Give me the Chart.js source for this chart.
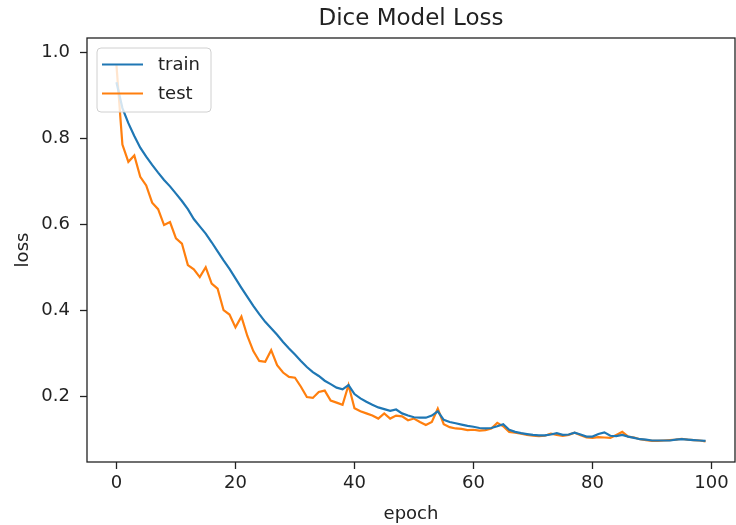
<!DOCTYPE html>
<html>
<head>
<meta charset="utf-8">
<title>Dice Model Loss</title>
<script src="https://cdn.jsdelivr.net/npm/chart.js@4.4.1/dist/chart.umd.min.js"></script>
<style>
  html, body { margin: 0; padding: 0; background: #fff; }
  #wrap { width: 736px; height: 525px; }
</style>
</head>
<body>
<div id="wrap"><canvas id="lossChart" width="736" height="525"></canvas></div>
<script>
/* Dice model loss per epoch — train vs test */

const EPOCHS = Array.from({ length: 100 }, (_, i) => i);

const TRAIN_LOSS = [
  0.930, 0.870, 0.835, 0.805, 0.778, 0.757, 0.738, 0.720, 0.703, 0.688,
  0.671, 0.654, 0.635, 0.612, 0.595, 0.578, 0.558, 0.537, 0.516, 0.496,
  0.474, 0.452, 0.431, 0.410, 0.391, 0.373, 0.358, 0.343, 0.326, 0.311,
  0.297, 0.282, 0.268, 0.256, 0.247, 0.236, 0.228, 0.220, 0.216, 0.226,
  0.205, 0.195, 0.187, 0.180, 0.174, 0.170, 0.166, 0.169, 0.160, 0.155,
  0.151, 0.150, 0.150, 0.155, 0.165, 0.145, 0.140, 0.137, 0.134, 0.131,
  0.129, 0.126, 0.125, 0.126, 0.130, 0.135, 0.122, 0.117, 0.114, 0.112,
  0.110, 0.109, 0.109, 0.111, 0.114, 0.110, 0.111, 0.115, 0.111, 0.106,
  0.106, 0.112, 0.116, 0.108, 0.107, 0.110, 0.106, 0.103, 0.100, 0.099,
  0.097, 0.097, 0.097, 0.097, 0.099, 0.100, 0.099, 0.098, 0.097, 0.096,
];

const TEST_LOSS = [
  0.970, 0.785, 0.745, 0.760, 0.710, 0.690, 0.650, 0.635, 0.598, 0.605,
  0.567, 0.555, 0.505, 0.495, 0.477, 0.500, 0.462, 0.450, 0.400, 0.390,
  0.360, 0.385, 0.340, 0.305, 0.282, 0.280, 0.307, 0.272, 0.255, 0.245,
  0.243, 0.222, 0.198, 0.196, 0.210, 0.213, 0.190, 0.185, 0.180, 0.226,
  0.172, 0.165, 0.160, 0.155, 0.148, 0.160, 0.148, 0.155, 0.153, 0.144,
  0.148, 0.140, 0.133, 0.140, 0.171, 0.135, 0.128, 0.125, 0.124, 0.121,
  0.122, 0.120, 0.121, 0.125, 0.138, 0.130, 0.117, 0.115, 0.113, 0.110,
  0.108, 0.107, 0.108, 0.113, 0.110, 0.108, 0.110, 0.115, 0.109, 0.104,
  0.103, 0.105, 0.104, 0.103, 0.110, 0.117, 0.106, 0.104, 0.100, 0.098,
  0.096, 0.096, 0.097, 0.098, 0.099, 0.101, 0.099, 0.098, 0.097, 0.095,
];

const X_TICKS = [0, 20, 40, 60, 80, 100];
const Y_TICKS = [0.2, 0.4, 0.6, 0.8, 1.0];

const FONT = 'DejaVu Sans';
const INK = '#222';

/* ===== plugins ===== */
// matplotlib-style box around the plot area
const framePlugin = {
  id: 'frame',
  afterDraw(chart) {
    const { ctx, chartArea: a } = chart;
    ctx.save();
    ctx.strokeStyle = INK;
    ctx.lineWidth = 1.3;
    ctx.strokeRect(a.left, a.top, a.right - a.left, a.bottom - a.top);
    ctx.restore();
  },
};

// legend in the upper left corner of the plot area
const cornerLegend = {
  id: 'cornerLegend',
  afterDatasetsDraw(chart) {
    const { ctx, chartArea: a } = chart;
    const x = a.left + 10, y = a.top + 10, w = 114, h = 64, r = 4;
    ctx.save();
    ctx.beginPath();
    ctx.roundRect(x, y, w, h, r);
    ctx.fillStyle = 'rgba(255,255,255,0.8)';
    ctx.fill();
    ctx.strokeStyle = '#d0d0d0';
    ctx.lineWidth = 1;
    ctx.stroke();
    ctx.font = `18px "${FONT}"`;
    ctx.textBaseline = 'middle';
    chart.data.datasets.forEach((ds, i) => {
      const ly = y + 16.5 + i * 29;
      ctx.beginPath();
      ctx.moveTo(x + 5, ly);
      ctx.lineTo(x + 46, ly);
      ctx.strokeStyle = ds.borderColor;
      ctx.lineWidth = 2.2;
      ctx.stroke();
      ctx.fillStyle = INK;
      ctx.fillText(ds.label, x + 61, ly + 1);
    });
    ctx.restore();
  },
};

/* ===== chart ===== */
const toPoints = ys => EPOCHS.map((e, i) => ({ x: e, y: ys[i] }));

new Chart(document.getElementById('lossChart'), {
  type: 'line',
  data: {
    datasets: [
      { label: 'train', data: toPoints(TRAIN_LOSS), borderColor: '#1f77b4', backgroundColor: '#1f77b4', borderWidth: 2.2, pointRadius: 0, tension: 0 },
      { label: 'test', data: toPoints(TEST_LOSS), borderColor: '#ff7f0e', backgroundColor: '#ff7f0e', borderWidth: 2.2, pointRadius: 0, tension: 0 },
    ],
  },
  options: {
    responsive: false,
    animation: false,
    devicePixelRatio: 1,
    layout: { padding: { left: 0, right: 1, top: 0, bottom: 0 } },
    plugins: {
      legend: { display: false },
      tooltip: { enabled: false },
      title: {
        display: true,
        fullSize: false,
        text: 'Dice Model Loss',
        color: INK,
        font: { family: FONT, size: 23, weight: 'normal' },
        padding: { top: 5, bottom: 5.4 },
      },
    },
    scales: {
      x: {
        type: 'linear',
        min: -4.95,
        max: 103.95,
        afterBuildTicks: s => { s.ticks = X_TICKS.map(v => ({ value: v })); },
        afterFit: s => { s.height = 63; },
        grid: { drawOnChartArea: false, drawTicks: true, tickLength: 7, tickColor: INK, tickWidth: 1.3 },
        border: { display: false },
        ticks: { color: INK, font: { family: FONT, size: 18 }, padding: 4, maxRotation: 0, autoSkip: false },
        title: { display: true, text: 'epoch', color: INK, font: { family: FONT, size: 18 }, padding: { top: 0, bottom: 0 } },
      },
      y: {
        type: 'linear',
        min: 0.047,
        max: 1.033,
        afterBuildTicks: s => { s.ticks = Y_TICKS.map(v => ({ value: v })); },
        afterFit: s => { s.width = 87; },
        grid: { drawOnChartArea: false, drawTicks: true, tickLength: 7, tickColor: INK, tickWidth: 1.3 },
        border: { display: false },
        ticks: { color: INK, font: { family: FONT, size: 18 }, padding: 10, callback: v => v.toFixed(1) },
        title: { display: true, text: 'loss', color: INK, font: { family: FONT, size: 18 }, padding: { top: 13, bottom: 0 } },
      },
    },
  },
  plugins: [framePlugin, cornerLegend],
});
</script>
</body>
</html>
